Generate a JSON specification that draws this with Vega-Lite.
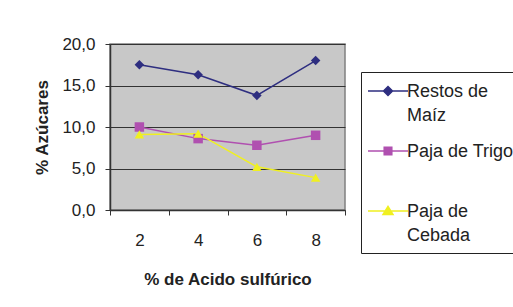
{
  "$schema": "https://vega.github.io/schema/vega-lite/v6.json",
  "width": 235,
  "height": 166,
  "autosize": "none",
  "padding": {"left": 110, "top": 44, "right": 168, "bottom": 97},
  "background": "white",
  "config": {
    "font": "Liberation Sans",
    "view": {"fill": "#C8C8C8", "stroke": "#808080", "strokeWidth": 1.5}
  },
  "data": {
    "values": [
      {"acido": "2", "serie": "Restos de Maíz", "azucar": 17.5},
      {"acido": "4", "serie": "Restos de Maíz", "azucar": 16.3},
      {"acido": "6", "serie": "Restos de Maíz", "azucar": 13.8},
      {"acido": "8", "serie": "Restos de Maíz", "azucar": 18.0},
      {"acido": "2", "serie": "Paja de Trigo", "azucar": 10.0},
      {"acido": "4", "serie": "Paja de Trigo", "azucar": 8.6},
      {"acido": "6", "serie": "Paja de Trigo", "azucar": 7.8},
      {"acido": "8", "serie": "Paja de Trigo", "azucar": 9.0},
      {"acido": "2", "serie": "Paja de Cebada", "azucar": 9.1},
      {"acido": "4", "serie": "Paja de Cebada", "azucar": 9.2},
      {"acido": "6", "serie": "Paja de Cebada", "azucar": 5.2},
      {"acido": "8", "serie": "Paja de Cebada", "azucar": 3.9}
    ]
  },
  "encoding": {
    "x": {
      "field": "acido", "type": "ordinal",
      "scale": {"type": "band", "paddingInner": 0, "paddingOuter": 0},
      "axis": {
        "title": "% de Acido sulfúrico", "titleFontSize": 17, "titleFontWeight": "bold", "titleColor": "#222",
        "titlePadding": 23, "labelAngle": 0, "labelFontSize": 17, "labelColor": "#222", "labelPadding": 17,
        "tickBand": "extent", "tickColor": "#333", "tickSize": 5, "domainColor": "#333", "domainWidth": 1.5, "grid": false
      }
    },
    "y": {
      "field": "azucar", "type": "quantitative",
      "scale": {"domain": [0, 20], "nice": false},
      "axis": {
        "title": "% Azúcares", "titleFontSize": 17, "titleFontWeight": "bold", "titleColor": "#222", "titlePadding": 10,
        "values": [0, 5, 10, 15, 20], "labelExpr": "replace(format(datum.value, '.1f'), '.', ',')",
        "labelFontSize": 17, "labelColor": "#222", "labelPadding": 10,
        "tickColor": "#333", "tickSize": 5, "domainColor": "#333", "domainWidth": 1.5,
        "grid": true, "gridColor": "#333", "gridWidth": 1.2
      }
    }
  },
  "layer": [
    {
      "mark": {"type": "line", "strokeWidth": 1.5},
      "encoding": {
        "color": {
          "field": "serie", "type": "nominal",
          "scale": {"domain": ["Restos de Maíz", "Paja de Trigo", "Paja de Cebada"], "range": ["#2E2E80", "#B050B0", "#F0F020"]},
          "legend": null
        }
      }
    },
    {
      "mark": {"type": "point", "filled": true, "opacity": 1, "size": 90},
      "encoding": {
        "color": {"field": "serie", "type": "nominal", "legend": null},
        "shape": {
          "field": "serie", "type": "nominal",
          "scale": {"domain": ["Restos de Maíz", "Paja de Trigo", "Paja de Cebada"], "range": ["diamond", "square", "triangle-up"]},
          "legend": null
        }
      }
    },
    {
      "mark": {"type": "point", "filled": true, "opacity": 0},
      "encoding": {
        "color": {
          "field": "serie", "type": "nominal",
          "legend": {
            "title": null, "orient": "none", "legendX": 251, "legendY": 28,
            "symbolSize": 400, "symbolStrokeWidth": 1.5, "symbolOpacity": 1, "symbolOffset": 8,
            "labelFontSize": 18, "labelColor": "#222", "labelBaseline": "alphabetic", "labelOffset": 8,
            "labelExpr": "datum.label == 'Restos de Maíz' ? ['Restos de', 'Maíz'] : datum.label == 'Paja de Cebada' ? ['Paja de', 'Cebada'] : [datum.label, '']",
            "labelLimit": 300, "rowPadding": 15,
            "strokeColor": "#222", "padding": 8, "fillColor": "white",
            "encode": {
              "symbols": {"update": {"stroke": {"scale": "color", "field": "value"}}},
              "labels": {"update": {"dy": {"value": 6}, "lineHeight": {"value": 24}}}
            }
          }
        },
        "shape": {
          "field": "serie", "type": "nominal",
          "scale": {"domain": ["Restos de Maíz", "Paja de Trigo", "Paja de Cebada"], "range": [
            "M-2,0H2M0,-0.45L0.45,0L0,0.45L-0.45,0Z",
            "M-2,0H2M-0.38,-0.38H0.38V0.38H-0.38Z",
            "M-2,0H2M0,-0.45L0.5,0.35H-0.5Z"
          ]}
        }
      }
    }
  ],
  "resolve": {"scale": {"shape": "independent"}, "legend": {"color": "independent", "shape": "independent"}}
}
